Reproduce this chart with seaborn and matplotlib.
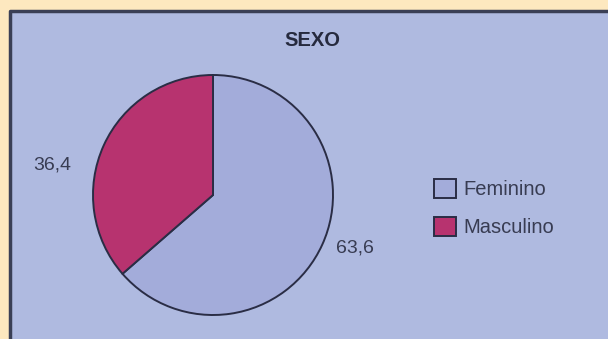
import matplotlib
matplotlib.use("Agg")
import matplotlib.pyplot as plt
from matplotlib.patches import Rectangle
from matplotlib.lines import Line2D
import seaborn as sns

categories = ["Feminino", "Masculino"]
values = [63.6, 36.4]
value_labels = ["63,6", "36,4"]
title = "SEXO"

colors = ["#A3ACDA", "#B7336F"]
edge = "#2A2D45"
panel = "#AFBAE0"
outer = "#FDE8BF"
txt = "#383C52"

sns.set_style("white")
plt.rcParams["font.family"] = ["Liberation Sans", "DejaVu Sans"]

W, H = 608, 339
fig = plt.figure(figsize=(W / 100, H / 100), dpi=100)
fig.patch.set_facecolor(outer)

# blue inner panel with dark top/left border
x0, ytop = 10 / W, 1 - 11 / H
fig.add_artist(Rectangle((x0, 0), 1 - x0, ytop, transform=fig.transFigure,
                         facecolor=panel, edgecolor="none", zorder=0))
fig.add_artist(Line2D([x0, x0, 1], [0, ytop, ytop], transform=fig.transFigure,
                      color="#3A3F55", lw=2.5, zorder=1))

fig.text(312 / W, 1 - 40 / H, title, ha="center", va="center",
         fontsize=14.5, fontweight="bold", color="#262A3E")

# pie axes
cx, cy, r = 213, 195, 120
ax = fig.add_axes([(cx - r) / W, 1 - (cy + r) / H, 2 * r / W, 2 * r / H])
ax.set_facecolor("none")
wedges, _ = ax.pie(values, colors=colors, startangle=90, counterclock=False,
                   wedgeprops=dict(edgecolor=edge, linewidth=1.4))
ax.set_xlim(-1, 1)
ax.set_ylim(-1, 1)
ax.set_aspect("equal")
ax.axis("off")

# value labels
ax.text((355 - cx) / r, (cy - 248) / r, value_labels[0], ha="center", va="center",
        fontsize=14, color=txt, clip_on=False)
ax.text((52 - cx) / r, (cy - 165) / r, value_labels[1], ha="center", va="center",
        fontsize=14, color=txt, clip_on=False)

# legend
leg = fig.legend(wedges, categories, loc="center left",
                 bbox_to_anchor=(416 / W, 1 - 208 / H), frameon=False,
                 fontsize=14.5, handlelength=1.1, handleheight=1.1,
                 handletextpad=0.35, labelspacing=0.85)
for t in leg.get_texts():
    t.set_color(txt)

fig.savefig("out.png", dpi=100, facecolor=fig.get_facecolor())
